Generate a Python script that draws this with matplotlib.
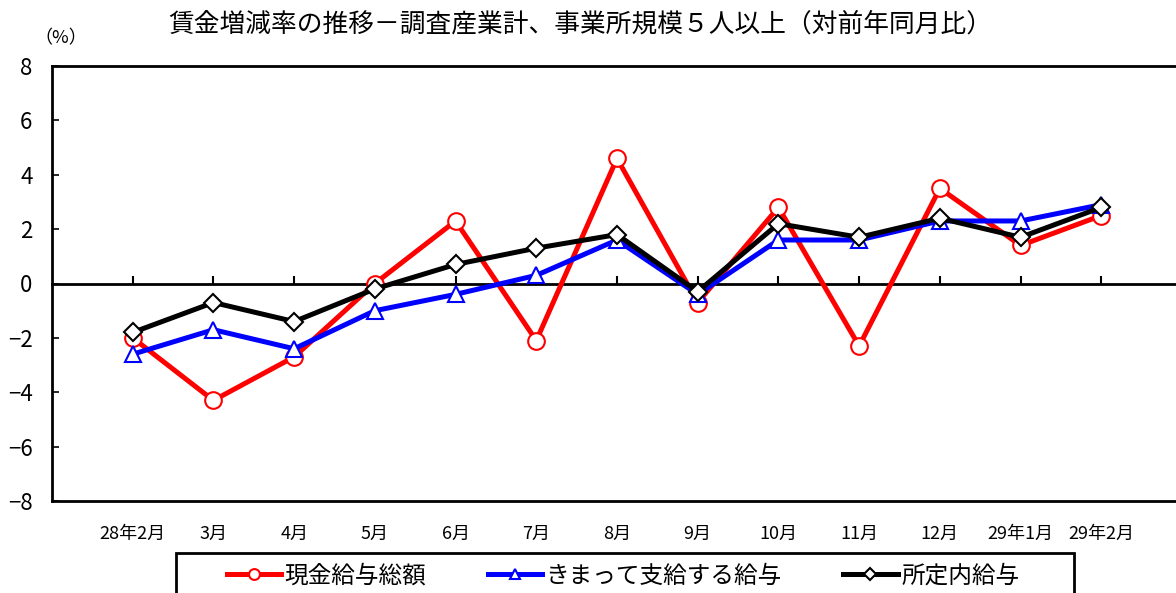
import matplotlib
matplotlib.use("Agg")
import matplotlib.pyplot as plt
from matplotlib.patches import Rectangle

# Data
months = ['28年2月', '3月', '4月', '5月', '6月', '7月', '8月', '9月', '10月', '11月', '12月', '29年1月', '29年2月']
genkin = [-2.0, -4.3, -2.7, 0.0, 2.3, -2.1, 4.6, -0.7, 2.8, -2.3, 3.5, 1.4, 2.5]
kimatte = [-2.6, -1.7, -2.4, -1.0, -0.4, 0.3, 1.6, -0.4, 1.6, 1.6, 2.3, 2.3, 2.9]
shoteinai = [-1.8, -0.7, -1.4, -0.2, 0.7, 1.3, 1.8, -0.3, 2.2, 1.7, 2.4, 1.7, 2.8]
yticks = [-8, -6, -4, -2, 0, 2, 4, 6, 8]

jp = ['Noto Sans CJK JP', 'DejaVu Sans']
narrow = ['Liberation Sans Narrow', 'Noto Sans CJK JP', 'DejaVu Sans']

W, H = 1176, 593
fig = plt.figure(figsize=(W / 100, H / 100), dpi=100)
ax = fig.add_axes([52 / W, (H - 501) / H, (1182 - 52) / W, (501 - 66) / H])

x = list(range(len(months)))
ax.plot(x, genkin, color='#ff0000', lw=3.6, marker='o', ms=12, mfc='white', mec='#ff0000', mew=1.5,
        label='現金給与総額', zorder=3)
ax.plot(x, kimatte, color='#0000ff', lw=3.6, marker='^', ms=12, mfc='white', mec='#0000ff', mew=1.5,
        label='きまって支給する給与', zorder=4)
ax.plot(x, shoteinai, color='black', lw=3.6, marker='D', ms=9.5, mfc='white', mec='black', mew=1.5,
        label='所定内給与', zorder=5)

ax.set_xlim(-1, len(months))
ax.set_ylim(-8, 8)
ax.set_yticks(yticks)
ax.set_yticklabels([str(v).replace('-', '−') for v in yticks], family=narrow, fontsize=16)
ax.tick_params(axis='y', direction='in', length=5, width=1.2, pad=14)
ax.set_xticks(x)
ax.set_xticklabels(months, family=narrow, fontsize=13)
ax.tick_params(axis='x', length=0, pad=17)
for s in ['left', 'top', 'bottom']:
    ax.spines[s].set_linewidth(2)
ax.spines['right'].set_visible(False)

# zero line with tick marks at each month
ax2 = ax.twiny()
ax2.set_xlim(ax.get_xlim())
ax2.set_xticks(x)
ax2.set_xticklabels([])
ax2.xaxis.set_ticks_position('bottom')
ax2.spines['bottom'].set_position(('data', 0))
ax2.spines['bottom'].set_linewidth(2)
for s in ['left', 'top', 'right']:
    ax2.spines[s].set_visible(False)
ax2.tick_params(axis='x', direction='in', length=6, width=1.5)
ax2.set_zorder(0)
ax.set_zorder(1)
ax.patch.set_visible(False)

fig.text(580 / W, 1 - 24 / H, '賃金増減率の推移－調査産業計、事業所規模５人以上（対前年同月比）',
         family=jp, fontsize=18.5, ha='center', va='center')
fig.text(61 / W, 1 - 38 / H, '（%）', family=jp, fontsize=13, ha='center', va='center')

# legend box (runs off the bottom edge as in the original)
fig.patches.append(Rectangle((176 / W, -0.1), (1074 - 176) / W, 0.1 + (H - 553) / H,
                             transform=fig.transFigure, fill=False, edgecolor='black', lw=2))
fig.legend(loc='center', bbox_to_anchor=(623 / W, 1 - 576 / H), ncol=3, frameon=False,
           prop={'family': jp, 'size': 17}, markerscale=0.65, handlelength=2.3,
           handletextpad=0.15, columnspacing=2.6)

fig.savefig('out.png', dpi=100)
